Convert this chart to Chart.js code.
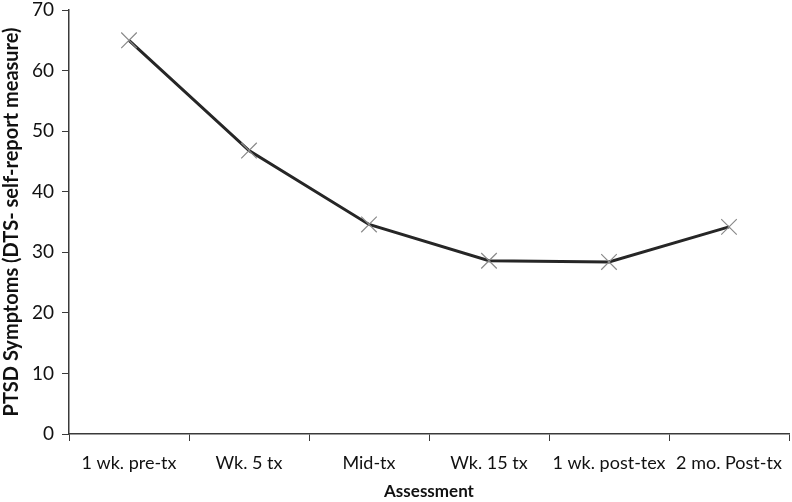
<!DOCTYPE html>
<html>
<head>
<meta charset="utf-8">
<script src="https://cdn.jsdelivr.net/npm/chart.js@4"></script>
<style>
  html, body { margin: 0; padding: 0; background: #fff; }
  #wrap { width: 792px; height: 502px; }
</style>
</head>
<body>
<div id="wrap"><canvas id="chart-ptsd-line"></canvas></div>
<script>
/* ── Chart data ── */
var assessments = ['1 wk. pre-tx', 'Wk. 5 tx', 'Mid-tx', 'Wk. 15 tx', '1 wk. post-tex', '2 mo. Post-tx'];
var ptsdScores  = [65.0, 46.8, 34.6, 28.6, 28.4, 34.2];
var yMin = 0, yMax = 70, yStep = 10;

var fontFamily = 'Lato, "Open Sans", sans-serif';
var axisColor = '#3a3a3a';

var ctx = document.getElementById('chart-ptsd-line').getContext('2d');
var ptsdChart = new Chart(ctx, {
    type: 'line',
    data: {
        labels: assessments,
        datasets: [{
            data: ptsdScores,
            borderColor: '#262626',
            borderWidth: 3,
            tension: 0,
            fill: false,
            pointStyle: 'crossRot',
            pointRadius: 11,
            pointBorderColor: '#8a8a8a',
            pointBorderWidth: 1.2,
            pointHoverRadius: 11
        }]
    },
    options: {
        responsive: true,
        maintainAspectRatio: false,
        animation: false,
        // no extra room for point markers at the edges
        layout: { padding: 0, autoPadding: false },
        plugins: { legend: { display: false }, tooltip: { enabled: false } },
        scales: {
            x: {
                type: 'category',
                offset: true,
                grid: {
                    offset: true,
                    drawOnChartArea: false,
                    drawTicks: true,
                    tickLength: 7,
                    color: axisColor
                },
                border: { color: axisColor, width: 1.5 },
                ticks: {
                    color: '#111',
                    font: { family: fontFamily, size: 18 },
                    padding: 11,
                    maxRotation: 0,
                    autoSkip: false
                },
                title: {
                    display: true,
                    text: 'Assessment',
                    color: '#111',
                    font: { family: fontFamily, size: 17, weight: 'bold' },
                    padding: { top: 1, bottom: 0 }
                },
                afterFit: function (scale) {
                    scale.height = 68;
                    scale.paddingLeft = 0;
                    scale.paddingRight = 3;
                }
            },
            y: {
                min: yMin,
                max: yMax,
                ticks: {
                    stepSize: yStep,
                    color: '#111',
                    font: { family: fontFamily, size: 19 },
                    padding: 8
                },
                grid: {
                    drawOnChartArea: false,
                    drawTicks: true,
                    tickLength: 7,
                    color: axisColor
                },
                border: { color: axisColor, width: 1.5 },
                title: {
                    display: true,
                    text: 'PTSD Symptoms (DTS- self-report measure)',
                    color: '#111',
                    font: { family: fontFamily, size: 20, weight: 'bold' },
                    padding: { top: 0, bottom: 2 }
                },
                afterFit: function (scale) {
                    scale.width = 69;
                    scale.paddingTop = 10;
                    scale.paddingBottom = 0;
                }
            }
        }
    }
});
</script>
</body>
</html>
